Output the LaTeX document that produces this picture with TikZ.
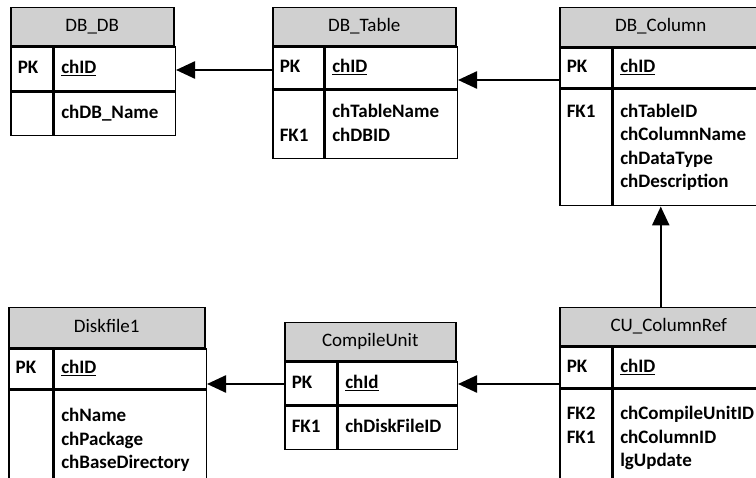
\documentclass[tikz,border=0pt]{standalone}
\usepackage{fontspec}
\setmainfont{Carlito}
\usetikzlibrary{arrows.meta}
\definecolor{couleurentete}{HTML}{D0D0D0}
\definecolor{couleurtrait}{HTML}{000000}
\tikzset{
		cellule/.style={draw=couleurtrait, line width=1.5pt, anchor=north west, inner xsep=7pt, inner ysep=0pt, align=left, font=\fontsize{19}{23.5}\selectfont\bfseries, execute at begin node=\strut, execute at end node=\strut},
		entete/.style={cellule, fill=couleurentete, align=center, font=\fontsize{19}{23.5}\selectfont},
		lien/.style={-{Triangle[length=19pt, width=17pt]}, line width=2.5pt, draw=couleurtrait}
	}
\begin{document}
\begin{tikzpicture}[x=1pt, y=-1pt]
		\clip (0,0) rectangle (756,478);
		% DB_DB
		\node[entete, minimum width=163pt, minimum height=38pt](entedbdb) at (10,7) {DB\_DB};
		\node[cellule, text width=28pt, minimum height=44pt](cledbdb1) at (entedbdb.south west) {PK};
		\node[cellule, text width=107pt, minimum height=44pt](chpdbdb1) at (cledbdb1.north east) {\underline{chID}};
		\node[cellule, text width=28pt, minimum height=43pt](cledbdb2) at (cledbdb1.south west) {};
		\node[cellule, text width=107pt, minimum height=43pt](chpdbdb2) at (cledbdb2.north east) {chDB\_Name};
		% DB_Table
		\node[entete, minimum width=183pt, minimum height=38pt](entetabl) at (272,7) {DB\_Table};
		\node[cellule, text width=37pt, minimum height=42pt](cletabl1) at (entetabl.south west) {PK};
		\node[cellule, text width=118pt, minimum height=42pt](chptabl1) at (cletabl1.north east) {\underline{chID}};
		\node[cellule, text width=37pt, minimum height=68pt](cletabl2) at (cletabl1.south west) {~\\FK1};
		\node[cellule, text width=118pt, minimum height=68pt](chptabl2) at (cletabl2.north east) {chTableName\\chDBID};
		% DB_Column
		\node[entete, minimum width=202pt, minimum height=39pt](entecolm) at (559,7) {DB\_Column};
		\node[cellule, text width=38pt, minimum height=40pt](clecolm1) at (entecolm.south west) {PK};
		\node[cellule, text width=136pt, minimum height=40pt](chpcolm1) at (clecolm1.north east) {\underline{chID}};
		\node[cellule, text width=38pt, minimum height=116pt](clecolm2) at (clecolm1.south west) {FK1\\~\\~\\~};
		\node[cellule, text width=136pt, minimum height=116pt](chpcolm2) at (clecolm2.north east) {chTableID\\chColumnName\\chDataType\\chDescription};
		% Diskfile1
		\node[entete, minimum width=196pt, minimum height=40pt](entedisk) at (8,307) {Diskfile1};
		\node[cellule, text width=30pt, minimum height=40pt](cledisk1) at (entedisk.south west) {PK};
		\node[cellule, text width=138pt, minimum height=40pt](chpdisk1) at (cledisk1.north east) {\underline{chID}};
		\node[cellule, text width=30pt, minimum height=100pt](cledisk2) at (cledisk1.south west) {};
		\node[cellule, text width=138pt, minimum height=100pt](chpdisk2) at (cledisk2.north east) {chName\\chPackage\\chBaseDirectory};
		% CompileUnit
		\node[entete, minimum width=171pt, minimum height=38pt](entecomp) at (284,322) {CompileUnit};
		\node[cellule, text width=38pt, minimum height=43pt](clecomp1) at (entecomp.south west) {PK};
		\node[cellule, text width=105pt, minimum height=43pt](chpcomp1) at (clecomp1.north east) {\underline{chId}};
		\node[cellule, text width=38pt, minimum height=43pt](clecomp2) at (clecomp1.south west) {FK1};
		\node[cellule, text width=105pt, minimum height=43pt](chpcomp2) at (clecomp2.north east) {chDiskFileID};
		% CU_ColumnRef
		\node[entete, minimum width=218pt, minimum height=38pt](entecref) at (559,307) {CU\_ColumnRef};
		\node[cellule, text width=38pt, minimum height=41pt](clecref1) at (entecref.south west) {PK};
		\node[cellule, text width=152pt, minimum height=41pt](chpcref1) at (clecref1.north east) {\underline{chID}};
		\node[cellule, text width=38pt, minimum height=98pt](clecref2) at (clecref1.south west) {FK2\\FK1\\~};
		\node[cellule, text width=152pt, minimum height=98pt](chpcref2) at (clecref2.north east) {chCompileUnitID\\chColumnID\\lgUpdate};
		% liens
		\draw[lien] (cletabl1.west |- 0,70) -- (chpdbdb1.east |- 0,70);
		\draw[lien] (clecolm1.west |- 0,80) -- (chptabl1.east |- 0,80);
		\draw[lien] (entecolm.center |- entecref.north) -- (entecolm.center |- chpcolm2.south);
		\draw[lien] (clecref1.west |- 0,384) -- (chpcomp1.east |- 0,384);
		\draw[lien] (clecomp1.west |- 0,384) -- (chpdisk1.east |- 0,384);
	\end{tikzpicture}
\end{document}
